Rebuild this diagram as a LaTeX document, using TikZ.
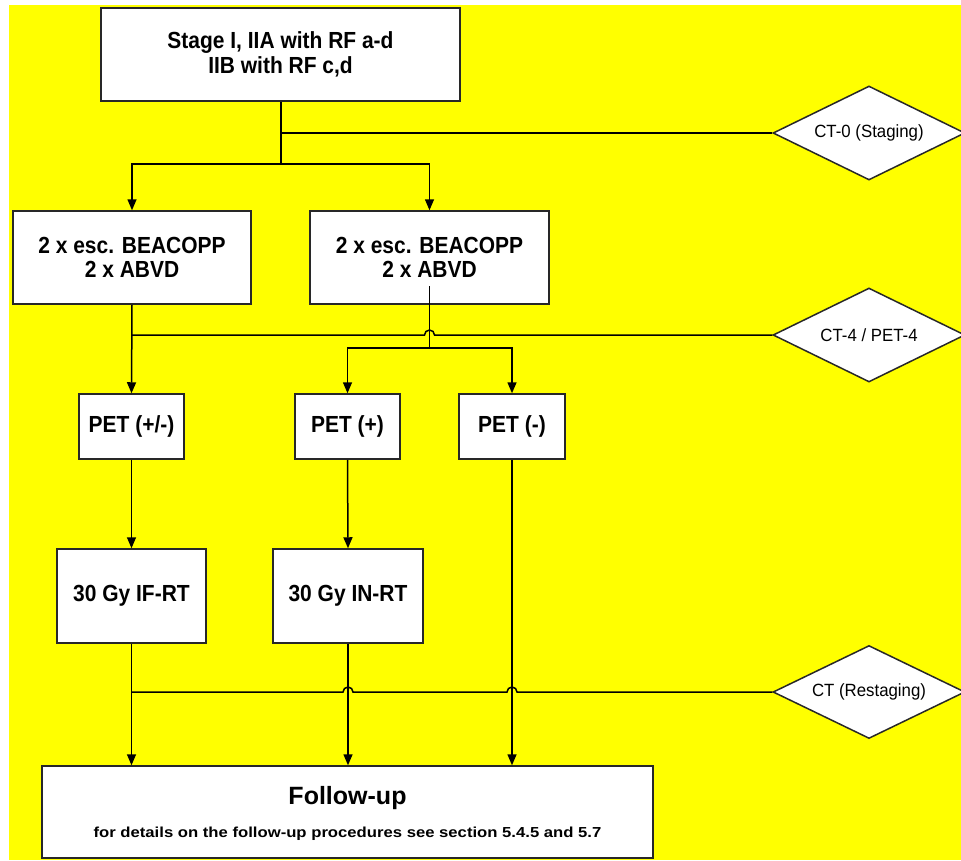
\documentclass[tikz,border=0pt]{standalone}
\usepackage{fontspec}
\setmainfont{Liberation Sans}
\newfontfamily\boxfont{Liberation Sans}[FakeStretch=0.9]
\newfontfamily\diafont{Liberation Sans}[FakeStretch=0.95]
\newfontfamily\subfont{Liberation Sans}[FakeStretch=1.15]
\usetikzlibrary{shapes.geometric,arrows.meta}
\definecolor{bgyellow}{RGB}{255,255,0}
\definecolor{edge}{RGB}{40,40,40}
\tikzset{
  box/.style={draw=edge, line width=1.5pt, fill=white, inner sep=0pt, align=center,
    font={\boxfont\bfseries\fontsize{23.3}{24.5}\selectfont}},
  dia/.style={diamond, shape aspect=2.04, draw=edge, line width=1.5pt, fill=white, inner sep=0pt,
    minimum width=192pt, minimum height=94pt,
    font={\diafont\fontsize{17.7}{20}\selectfont}},
  arr/.style={-{Triangle[length=11pt,width=9pt]}, line width=1.5pt, draw=black},
  ln/.style={line width=1.5pt, draw=black},
}
\begin{document}
\begin{tikzpicture}[x=1pt,y=-1pt]
\useasboundingbox (0,0) rectangle (961,860);
\clip (0,0) rectangle (961,860);
\fill[bgyellow] (9,5) rectangle (961,860);

% boxes
\node[box, minimum width=359pt, minimum height=93pt] (top) at (280.5,54.5) {Stage I, IIA with RF a-d\\IIB with RF c,d};
\node[box, minimum width=238pt, minimum height=93pt] (b1) at (132,257.5) {2 x esc. BEACOPP\\2 x ABVD};
\node[box, minimum width=239pt, minimum height=93pt] (b2) at (429.5,257.5) {2 x esc. BEACOPP\\2 x ABVD};
\node[box, minimum width=105pt, minimum height=65pt] (p1) at (131.5,426.5) {PET (+/-)};
\node[box, minimum width=105pt, minimum height=65pt] (p2) at (347.5,426.5) {PET (+)};
\node[box, minimum width=106pt, minimum height=65pt] (p3) at (512,426.5) {PET (-)};
\node[box, minimum width=149pt, minimum height=94pt] (r1) at (131.5,596) {30 Gy IF-RT};
\node[box, minimum width=150pt, minimum height=94pt] (r2) at (348,596) {30 Gy IN-RT};
\node[box, minimum width=611pt, minimum height=92pt] (fu) at (347.5,812) {};
\node[anchor=base, inner sep=0pt, font={\bfseries\fontsize{25}{28}\selectfont}] (fut) at (347.5,804.3) {Follow-up};
\node[anchor=base, inner sep=0pt, font={\subfont\bfseries\fontsize{14.5}{16}\selectfont}] (fus) at (347.5,837) {for details on the follow-up procedures see section 5.4.5 and 5.7};

% diamonds
\node[dia] (d0) at (869,133) {CT-0 (Staging)};
\node[dia] (d4) at (869,335) {CT-4 / PET-4};
\node[dia, minimum height=93pt] (d5) at (869,692) {CT (Restaging)};

% top split
\coordinate (j0) at (281,164);
\draw[ln] (top.south -| j0) -- (j0);
\draw[ln] (j0 |- d0.west) -- (d0.west);
\draw[arr] (j0) -| (b1.north);
\draw[arr] (j0) -| (b2.north);

% after BEACOPP
\draw[arr] (b1.south) -- (p1.north);
\draw[ln] (b1.south |- d4.west) -- ([xshift=-5pt]b2.south |- d4.west) arc (180:360:5) -- (d4.west);
\coordinate (b2in) at (429.5,286);
\coordinate (j4) at (429.5,348);
\draw[ln] (b2in) -- (j4);
\draw[arr] (j4) -| (p2.north);
\draw[arr] (j4) -| (p3.north);

% PET to RT / follow-up
\draw[arr] (p1.south) -- (r1.north);
\draw[arr] (p2.south) -- (r2.north);
\draw[arr] (p3.south) -- (p3.south |- fu.north);
\draw[arr] (r1.south) -- (r1.south |- fu.north);
\draw[arr] (r2.south) -- (r2.south |- fu.north);

% restaging line with hops
\draw[ln] (r1.south |- d5.west) -- ([xshift=-5pt]r2.south |- d5.west) arc (180:360:5)
  -- ([xshift=-5pt]p3.south |- d5.west) arc (180:360:5) -- (d5.west);
\end{tikzpicture}
\end{document}
